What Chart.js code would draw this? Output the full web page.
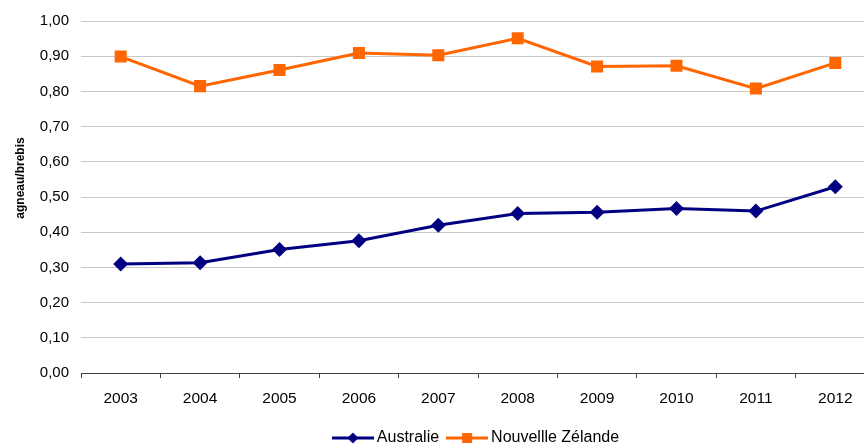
<!DOCTYPE html>
<html>
<head>
<meta charset="utf-8">
<script src="https://cdn.jsdelivr.net/npm/chart.js@4/dist/chart.umd.min.js"></script>
<style>
  html, body { margin: 0; padding: 0; background: #fff; overflow: hidden; }
  #wrap { position: absolute; left: 0; top: 0; width: 956px; height: 456px; }
</style>
</head>
<body>
<div id="wrap"><canvas id="chart"></canvas></div>
<script>
// Years on the x axis
const years = ['2003', '2004', '2005', '2006', '2007', '2008', '2009', '2010', '2011', '2012'];

// Lambs per ewe
const australie = [0.31, 0.313, 0.351, 0.376, 0.42, 0.453, 0.457, 0.467, 0.46, 0.529];
const nouvelleZelande = [0.899, 0.815, 0.861, 0.909, 0.903, 0.951, 0.871, 0.873, 0.808, 0.881];

// Y axis range and title
const yMin = 0;
const yMax = 1;
const yStep = 0.1;
const yTitle = 'agneau/brebis';

const navy = '#000080';
const orange = '#ff6600';
const fontFamily = '"Liberation Sans", Arial, sans-serif';

// Small legend symbol: a line with the marker in the middle
function legendSymbol(color, shape) {
    const c = document.createElement('canvas');
    c.width = 42;
    c.height = 14;
    const g = c.getContext('2d');
    g.strokeStyle = color;
    g.lineWidth = 3;
    g.beginPath();
    g.moveTo(0, 7);
    g.lineTo(42, 7);
    g.stroke();
    g.fillStyle = color;
    if (shape === 'diamond') {
        g.beginPath();
        g.moveTo(21, 1.5);
        g.lineTo(26.5, 7);
        g.lineTo(21, 12.5);
        g.lineTo(15.5, 7);
        g.closePath();
        g.fill();
    } else {
        g.fillRect(16, 2, 10, 10);
    }
    return c;
}

const symbols = [legendSymbol(navy, 'diamond'), legendSymbol(orange, 'square')];

// Y title drawn a bit above the middle of the axis, like the original
const yTitlePlugin = {
    id: 'yTitle',
    afterDraw(chart) {
        const ctx = chart.ctx;
        ctx.save();
        ctx.translate(21, 178);
        ctx.rotate(-Math.PI / 2);
        ctx.font = 'bold 12px ' + fontFamily;
        ctx.fillStyle = '#000';
        ctx.textAlign = 'center';
        ctx.textBaseline = 'middle';
        ctx.fillText(yTitle, 0, 0);
        ctx.restore();
    }
};

new Chart(document.getElementById('chart'), {
    type: 'line',
    data: {
        labels: years,
        datasets: [
            {
                label: 'Australie',
                data: australie,
                borderColor: navy,
                backgroundColor: navy,
                borderWidth: 3,
                pointStyle: 'rectRot',
                pointRadius: 7.5,
                pointHoverRadius: 7.5,
                pointBorderWidth: 0,
                tension: 0
            },
            {
                label: 'Nouvellle Zélande',
                data: nouvelleZelande,
                borderColor: orange,
                backgroundColor: orange,
                borderWidth: 3,
                pointStyle: 'rect',
                pointRadius: 8.5,
                pointHoverRadius: 8.5,
                pointBorderWidth: 0,
                tension: 0
            }
        ]
    },
    plugins: [yTitlePlugin],
    options: {
        responsive: true,
        maintainAspectRatio: false,
        animation: false,
        layout: { padding: { top: 21, bottom: 0 } },
        plugins: {
            tooltip: { enabled: false },
            legend: {
                position: 'bottom',
                labels: {
                    color: '#000',
                    font: { family: fontFamily, size: 16 },
                    usePointStyle: true,
                    pointStyleWidth: 32,
                    boxHeight: 14,
                    padding: 12,
                    generateLabels: (chart) => {
                        const items = Chart.defaults.plugins.legend.labels.generateLabels(chart);
                        items.forEach((item, i) => { item.pointStyle = symbols[i]; });
                        return items;
                    }
                }
            }
        },
        scales: {
            x: {
                offset: true,
                afterFit: (scale) => { scale.height = 45; },
                grid: {
                    offset: true,
                    drawOnChartArea: false,
                    drawTicks: true,
                    tickLength: 5,
                    color: '#404040'
                },
                border: { display: true, color: '#404040', width: 1 },
                ticks: {
                    color: '#000',
                    font: { family: fontFamily, size: 15.5 },
                    padding: 11,
                    maxRotation: 0
                }
            },
            y: {
                min: yMin,
                max: yMax,
                afterFit: (scale) => { scale.width = 81; },
                grid: { color: '#c8c8c8', drawTicks: false },
                border: { display: false },
                ticks: {
                    stepSize: yStep,
                    color: '#000',
                    font: { family: fontFamily, size: 15 },
                    padding: 12,
                    callback: (v) => v.toFixed(2).replace('.', ',')
                }
            },
            right: {
                position: 'right',
                min: yMin,
                max: yMax,
                afterFit: (scale) => { scale.width = 81; },
                grid: { drawOnChartArea: false, drawTicks: false },
                border: { display: false },
                ticks: { display: false }
            }
        }
    }
});
</script>
</body>
</html>
